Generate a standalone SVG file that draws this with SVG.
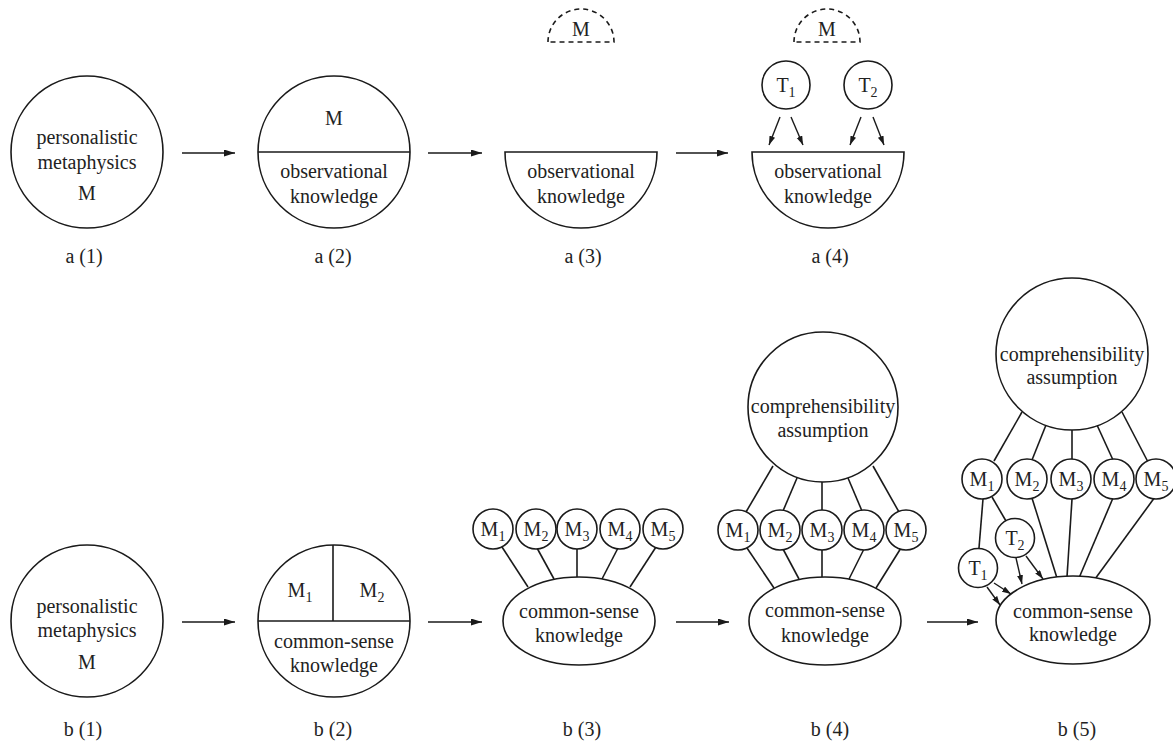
<svg xmlns="http://www.w3.org/2000/svg" width="1173" height="743" viewBox="0 0 1173 743" font-family="'Liberation Serif', 'DejaVu Serif', serif">
<defs>
<marker id="arr" markerUnits="userSpaceOnUse" markerWidth="12" markerHeight="8" refX="11" refY="3.5" orient="auto"><path d="M0,0 L11,3.5 L0,7 z" fill="#1a1a1a"/></marker>
<marker id="arrs" markerUnits="userSpaceOnUse" markerWidth="10" markerHeight="7" refX="9" refY="3" orient="auto"><path d="M0,0 L9,3 L0,6 z" fill="#1a1a1a"/></marker>
</defs>
<style>
.s{fill:#fff;stroke:#1a1a1a;stroke-width:1.6}
.d{fill:none;stroke:#1a1a1a;stroke-width:1.6;stroke-dasharray:5 4}
.l{fill:none;stroke:#1a1a1a;stroke-width:1.6}
.a{fill:none;stroke:#1a1a1a;stroke-width:1.6;marker-end:url(#arr)}
.as{fill:none;stroke:#1a1a1a;stroke-width:1.4;marker-end:url(#arrs)}
text{font-family:'Liberation Serif','DejaVu Serif',serif;font-size:20px;fill:#222;text-anchor:middle}
.sub{font-size:14px}
</style>
<rect width="1173" height="743" fill="#fff"/>

<g id="connectors">
<line class="a" x1="182" y1="153" x2="235" y2="153"/>
<line class="a" x1="428" y1="153" x2="482" y2="153"/>
<line class="a" x1="676" y1="153" x2="728" y2="153"/>
<line class="a" x1="182" y1="622" x2="235" y2="622"/>
<line class="a" x1="428" y1="622" x2="482" y2="622"/>
<line class="a" x1="676" y1="622" x2="729" y2="622"/>
<line class="a" x1="927" y1="622" x2="978" y2="622"/>
<line class="as" x1="780" y1="117" x2="769" y2="145"/>
<line class="as" x1="791" y1="117" x2="803" y2="145"/>
<line class="as" x1="861" y1="117" x2="850" y2="145"/>
<line class="as" x1="873" y1="117" x2="884" y2="145"/>
<line class="l" x1="502" y1="547" x2="528" y2="587"/>
<line class="l" x1="537" y1="548" x2="554" y2="579"/>
<line class="l" x1="577" y1="549" x2="577" y2="577"/>
<line class="l" x1="618" y1="548" x2="602" y2="579"/>
<line class="l" x1="656" y1="547" x2="630" y2="587"/>
<line class="l" x1="773" y1="466" x2="746" y2="512"/>
<line class="l" x1="797" y1="478" x2="783" y2="511"/>
<line class="l" x1="822" y1="482" x2="822" y2="510"/>
<line class="l" x1="848" y1="478" x2="862" y2="511"/>
<line class="l" x1="873" y1="466" x2="899" y2="512"/>
<line class="l" x1="747" y1="548" x2="774" y2="588"/>
<line class="l" x1="783" y1="549" x2="799" y2="579"/>
<line class="l" x1="822" y1="550" x2="822" y2="577"/>
<line class="l" x1="864" y1="549" x2="849" y2="579"/>
<line class="l" x1="901" y1="548" x2="876" y2="588"/>
<line class="l" x1="1022" y1="412" x2="994" y2="461"/>
<line class="l" x1="1046" y1="425" x2="1032" y2="460"/>
<line class="l" x1="1072" y1="430" x2="1072" y2="459"/>
<line class="l" x1="1097" y1="425" x2="1113" y2="460"/>
<line class="l" x1="1122" y1="412" x2="1148" y2="462"/>
<line class="l" x1="1032" y1="498" x2="1057" y2="578"/>
<line class="l" x1="1072" y1="499" x2="1067" y2="577"/>
<line class="l" x1="1113" y1="498" x2="1079" y2="578"/>
<line class="l" x1="1155" y1="497" x2="1095" y2="579"/>
<line class="l" x1="983" y1="499" x2="979" y2="548"/>
<line class="l" x1="992" y1="497" x2="1006" y2="521"/>
<line class="as" x1="987" y1="587" x2="1000" y2="605"/>
<line class="as" x1="994" y1="583" x2="1011" y2="594"/>
<line class="as" x1="1016" y1="558" x2="1022" y2="584"/>
<line class="as" x1="1026" y1="556" x2="1043" y2="579"/>
</g>

<g id="a1">
<circle class="s" cx="87" cy="152" r="76"/>
<text x="87" y="144">personalistic</text>
<text x="87" y="169">metaphysics</text>
<text x="87" y="200">M</text>
<text x="84" y="263">a (1)</text>
</g>

<g id="a2">
<circle class="s" cx="334" cy="152" r="76"/>
<line class="l" x1="258" y1="152" x2="410" y2="152"/>
<text x="334" y="125">M</text>
<text x="334" y="178">observational</text>
<text x="334" y="203">knowledge</text>
<text x="333" y="263">a (2)</text>
</g>

<g id="a3">
<path class="d" d="M548,42 A33,33 0 0 1 614,42 Z"/>
<text x="581" y="36">M</text>
<path class="s" d="M505,152 L657,152 A76,76 0 0 1 505,152 Z"/>
<text x="581" y="178">observational</text>
<text x="581" y="203">knowledge</text>
<text x="583" y="263">a (3)</text>
</g>

<g id="a4">
<path class="d" d="M794,42 A33,33 0 0 1 860,42 Z"/>
<text x="827" y="36">M</text>
<path class="s" d="M752,152 L904,152 A76,76 0 0 1 752,152 Z"/>
<text x="828" y="178">observational</text>
<text x="828" y="203">knowledge</text>
<text x="830" y="263">a (4)</text>
</g>
<g id="a4-T1"><circle class="s" cx="786" cy="85" r="24"/><text x="786" y="92">T<tspan class="sub" dy="5">1</tspan></text></g>
<g id="a4-T2"><circle class="s" cx="868" cy="85" r="24"/><text x="868" y="92">T<tspan class="sub" dy="5">2</tspan></text></g>

<g id="b1">
<circle class="s" cx="87" cy="621" r="76"/>
<text x="87" y="613">personalistic</text>
<text x="87" y="637">metaphysics</text>
<text x="87" y="669">M</text>
<text x="83" y="736">b (1)</text>
</g>

<g id="b2">
<circle class="s" cx="334" cy="621" r="76"/>
<line class="l" x1="258" y1="621" x2="410" y2="621"/>
<line class="l" x1="333" y1="545" x2="333" y2="621"/>
<text x="300" y="597">M<tspan class="sub" dy="5">1</tspan></text>
<text x="372" y="597">M<tspan class="sub" dy="5">2</tspan></text>
<text x="334" y="648">common-sense</text>
<text x="334" y="672">knowledge</text>
<text x="333" y="736">b (2)</text>
</g>

<g id="b3">
<ellipse class="s" cx="579" cy="621" rx="76" ry="44"/>
<text x="579" y="618">common-sense</text>
<text x="579" y="642">knowledge</text>
<text x="582" y="736">b (3)</text>
</g>
<g id="b3-M1"><circle class="s" cx="493" cy="529" r="20"/><text x="493" y="536">M<tspan class="sub" dy="5">1</tspan></text></g>
<g id="b3-M2"><circle class="s" cx="536" cy="529" r="20"/><text x="536" y="536">M<tspan class="sub" dy="5">2</tspan></text></g>
<g id="b3-M3"><circle class="s" cx="577" cy="529" r="20"/><text x="577" y="536">M<tspan class="sub" dy="5">3</tspan></text></g>
<g id="b3-M4"><circle class="s" cx="620" cy="529" r="20"/><text x="620" y="536">M<tspan class="sub" dy="5">4</tspan></text></g>
<g id="b3-M5"><circle class="s" cx="663" cy="529" r="20"/><text x="663" y="536">M<tspan class="sub" dy="5">5</tspan></text></g>

<g id="b4">
<circle class="s" cx="823" cy="407" r="75"/>
<text x="823" y="413">comprehensibility</text>
<text x="823" y="437">assumption</text>
<ellipse class="s" cx="825" cy="621" rx="76" ry="44"/>
<text x="825" y="617">common-sense</text>
<text x="825" y="642">knowledge</text>
<text x="830" y="736">b (4)</text>
</g>
<g id="b4-M1"><circle class="s" cx="738" cy="530" r="20"/><text x="738" y="537">M<tspan class="sub" dy="5">1</tspan></text></g>
<g id="b4-M2"><circle class="s" cx="780" cy="530" r="20"/><text x="780" y="537">M<tspan class="sub" dy="5">2</tspan></text></g>
<g id="b4-M3"><circle class="s" cx="822" cy="530" r="20"/><text x="822" y="537">M<tspan class="sub" dy="5">3</tspan></text></g>
<g id="b4-M4"><circle class="s" cx="864" cy="530" r="20"/><text x="864" y="537">M<tspan class="sub" dy="5">4</tspan></text></g>
<g id="b4-M5"><circle class="s" cx="906" cy="530" r="20"/><text x="906" y="537">M<tspan class="sub" dy="5">5</tspan></text></g>

<g id="b5">
<circle class="s" cx="1072" cy="354" r="76"/>
<text x="1072" y="361">comprehensibility</text>
<text x="1072" y="384">assumption</text>
<ellipse class="s" cx="1073" cy="620" rx="77" ry="44"/>
<text x="1073" y="618">common-sense</text>
<text x="1073" y="641">knowledge</text>
<text x="1077" y="736">b (5)</text>
</g>
<g id="b5-M1"><circle class="s" cx="982" cy="479" r="20"/><text x="982" y="486">M<tspan class="sub" dy="5">1</tspan></text></g>
<g id="b5-M2"><circle class="s" cx="1027" cy="479" r="20"/><text x="1027" y="486">M<tspan class="sub" dy="5">2</tspan></text></g>
<g id="b5-M3"><circle class="s" cx="1071" cy="479" r="20"/><text x="1071" y="486">M<tspan class="sub" dy="5">3</tspan></text></g>
<g id="b5-M4"><circle class="s" cx="1114" cy="479" r="20"/><text x="1114" y="486">M<tspan class="sub" dy="5">4</tspan></text></g>
<g id="b5-M5"><circle class="s" cx="1156" cy="479" r="20"/><text x="1156" y="486">M<tspan class="sub" dy="5">5</tspan></text></g>
<g id="b5-T1"><circle class="s" cx="978" cy="568" r="19.5"/><text x="978" y="575">T<tspan class="sub" dy="5">1</tspan></text></g>
<g id="b5-T2"><circle class="s" cx="1015" cy="538" r="19.5"/><text x="1015" y="545">T<tspan class="sub" dy="5">2</tspan></text></g>
</svg>
